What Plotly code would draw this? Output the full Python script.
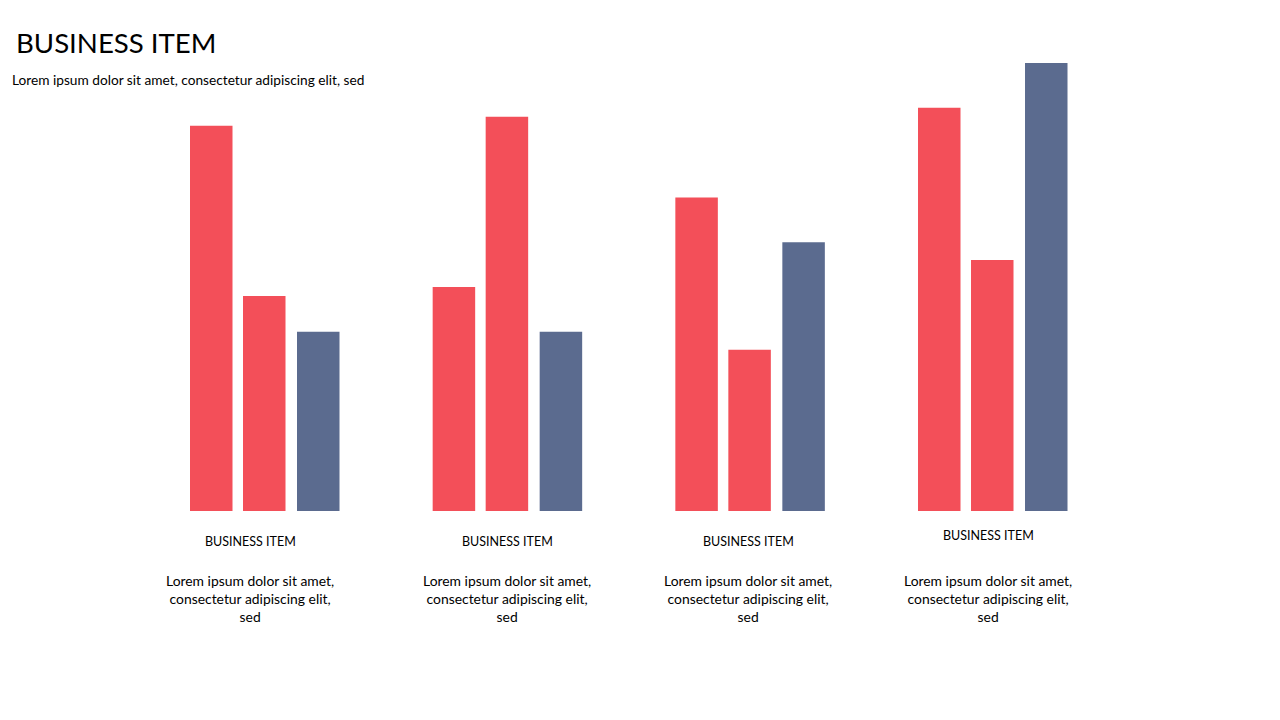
import plotly.graph_objects as go

groups = [0, 1, 2, 3]
series_a = [4.3, 2.5, 3.5, 4.5]
series_b = [2.4, 4.4, 1.8, 2.8]
series_c = [2.0, 2.0, 3.0, 5.0]
group_titles = ["BUSINESS ITEM"] * 4
group_texts = ["Lorem ipsum dolor sit amet,<br>consectetur adipiscing elit,<br>sed"] * 4
title_text = "BUSINESS ITEM"
subtitle_text = "Lorem ipsum dolor sit amet, consectetur adipiscing elit, sed"

RED = "#F34F59"
BLUE = "#5B6B8F"
FONT = "Lato"

W, H = 1280, 720
OFF = 8  # page body margin
px_per_x = 242.67
x0_px = 265.0 - OFF
px_per_y = 89.6
base_px = 511.0 - OFF

bw = 42.5 / px_per_x
fig = go.Figure()
for vals, color, off_px in [(series_a, RED, -75), (series_b, RED, -22), (series_c, BLUE, 32)]:
    fig.add_trace(go.Bar(x=groups, y=vals, marker=dict(color=color, line=dict(width=0)),
                         width=bw, offset=off_px / px_per_x, showlegend=False, hoverinfo="skip"))

xr = [-x0_px / px_per_x, (W - x0_px) / px_per_x]
yr = [-(H - base_px) / px_per_y, base_px / px_per_y]

def pxx(p):
    return (p - OFF) / W

def py(p):
    return 1 - (p - OFF) / H

ann = []
ann.append(dict(x=pxx(14), y=py(42), xref="paper", yref="paper", text=title_text, showarrow=False,
                xanchor="left", yanchor="middle", font=dict(family=FONT, size=27.6, color="#000")))
ann.append(dict(x=pxx(10), y=py(80), xref="paper", yref="paper", text=subtitle_text, showarrow=False,
                xanchor="left", yanchor="middle", font=dict(family=FONT, size=13.7, color="#000")))
label_cx = [250, 507, 748, 988]
label_y = [541, 541, 541, 535]
for i, g in enumerate(groups):
    ann.append(dict(x=pxx(label_cx[i]), y=py(label_y[i]), xref="paper", yref="paper", text=group_titles[i],
                    showarrow=False, xanchor="center", yanchor="middle",
                    font=dict(family=FONT, size=12.5, color="#000")))
    ann.append(dict(x=pxx(label_cx[i]), y=py(598), xref="paper", yref="paper", text=group_texts[i],
                    showarrow=False, xanchor="center", yanchor="middle", align="center",
                    font=dict(family=FONT, size=13.9, color="#000")))

fig.update_layout(
    width=W, height=H, margin=dict(l=0, r=0, t=0, b=0),
    paper_bgcolor="white", plot_bgcolor="white",
    xaxis=dict(range=xr, visible=False, fixedrange=True),
    yaxis=dict(range=yr, visible=False, fixedrange=True),
    annotations=ann, barmode="overlay",
)
fig.write_html("out.html")
